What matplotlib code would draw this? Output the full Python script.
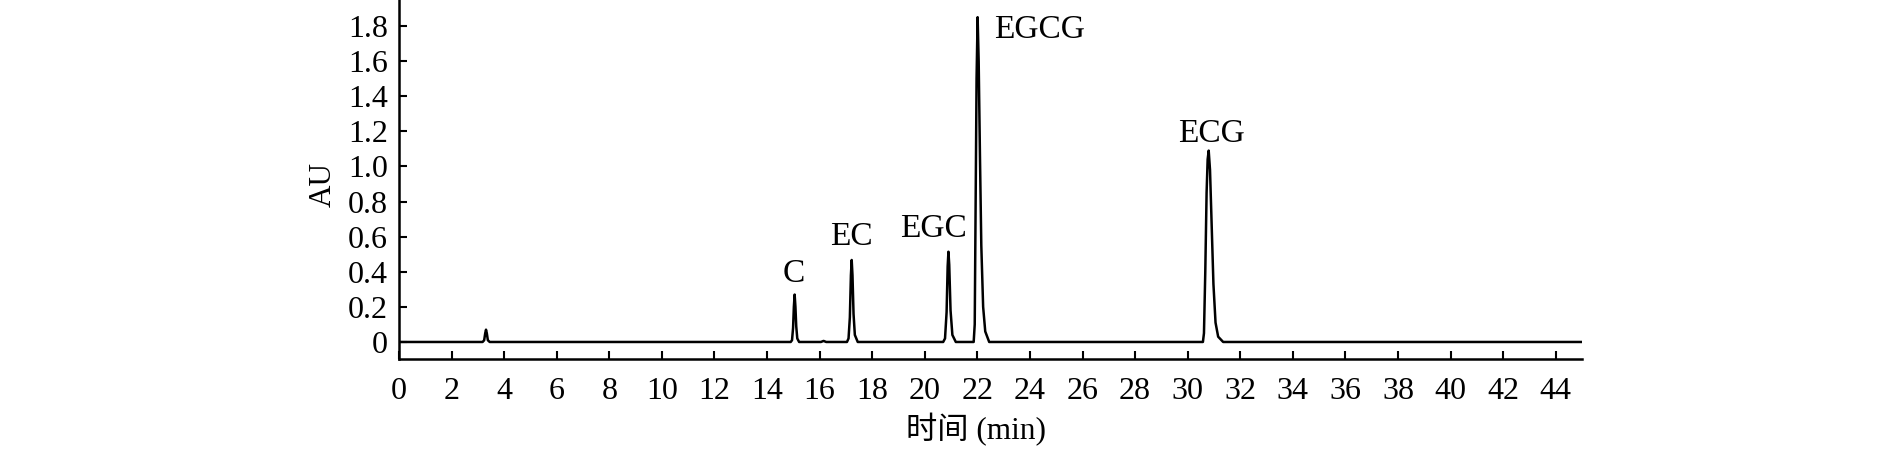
import matplotlib
matplotlib.use("Agg")
import matplotlib.pyplot as plt

# Chromatogram trace (time in min, absorbance in AU)
time_min = [0.0,
            3.18, 3.24, 3.28, 3.31, 3.34, 3.38, 3.45,
            14.90, 14.95, 14.99, 15.02, 15.05, 15.08, 15.11, 15.15, 15.22,
            16.05, 16.15, 16.25,
            17.04, 17.10, 17.15, 17.19, 17.22, 17.25, 17.29, 17.34, 17.45,
            20.70, 20.77, 20.83, 20.87, 20.90, 20.93, 20.98, 21.05, 21.18,
            21.86, 21.90, 21.93, 21.97, 22.01, 22.05, 22.10, 22.15, 22.22, 22.30, 22.45,
            30.58, 30.62, 30.67, 30.72, 30.76, 30.80, 30.85, 30.91, 30.98, 31.06, 31.16, 31.35,
            45.0]
au = [0.0,
      0.0, 0.01, 0.05, 0.07, 0.05, 0.01, 0.0,
      0.0, 0.01, 0.08, 0.20, 0.27, 0.20, 0.09, 0.02, 0.0,
      0.0, 0.006, 0.0,
      0.0, 0.02, 0.14, 0.38, 0.467, 0.38, 0.16, 0.04, 0.0,
      0.0, 0.02, 0.17, 0.43, 0.514, 0.44, 0.18, 0.04, 0.0,
      0.0, 0.10, 0.70, 1.50, 1.85, 1.60, 1.05, 0.55, 0.20, 0.06, 0.0,
      0.0, 0.05, 0.40, 0.85, 1.04, 1.09, 0.98, 0.68, 0.33, 0.11, 0.03, 0.0,
      0.0]

# Peak labels and their positions
peak_names = ["C", "EC", "EGC", "EGCG", "ECG"]
label_x = [15.0, 17.22, 20.32, 22.62, 30.91]
label_y = [0.387, 0.60, 0.646, 1.78, 1.187]
label_ha = ["center", "center", "center", "left", "center"]

x_ticks = list(range(0, 45, 2))
y_ticks = [0, 0.2, 0.4, 0.6, 0.8, 1.0, 1.2, 1.4, 1.6, 1.8]
y_tick_labels = ["0", "0.2", "0.4", "0.6", "0.8", "1.0", "1.2", "1.4", "1.6", "1.8"]

plt.rcParams['font.family'] = ['Liberation Serif', 'Noto Sans CJK SC', 'DejaVu Sans']

fig = plt.figure(figsize=(18.9, 4.49), dpi=100)
ax = fig.add_axes([399 / 1890, 90 / 449, (1582 - 399) / 1890, 359 / 449])

ax.plot(time_min, au, color='black', linewidth=1.8)

for name, x, y, ha in zip(peak_names, label_x, label_y, label_ha):
    ax.text(x, y, name, ha=ha, va='center', fontsize=24)

ax.set_xlim(0, 45)
ax.set_ylim(-0.097, 1.948)
ax.set_xticks(x_ticks)
ax.set_xticklabels([str(t) for t in x_ticks])
ax.set_yticks(y_ticks)
ax.set_yticklabels(y_tick_labels)

for s in ['top', 'right']:
    ax.spines[s].set_visible(False)
for s in ['left', 'bottom']:
    ax.spines[s].set_linewidth(1.8)

ax.tick_params(axis='both', direction='in', length=6, width=1.5, labelsize=23)
ax.tick_params(axis='x', pad=13)
ax.tick_params(axis='y', pad=8)

ax.set_xlabel("时间 (min)", fontsize=22.5)
ax.xaxis.set_label_coords(0.488, -0.15)
ax.set_ylabel("AU", fontsize=22.5)
ax.yaxis.set_label_coords(-0.052, 0.485)

fig.savefig("out.png", dpi=100)
